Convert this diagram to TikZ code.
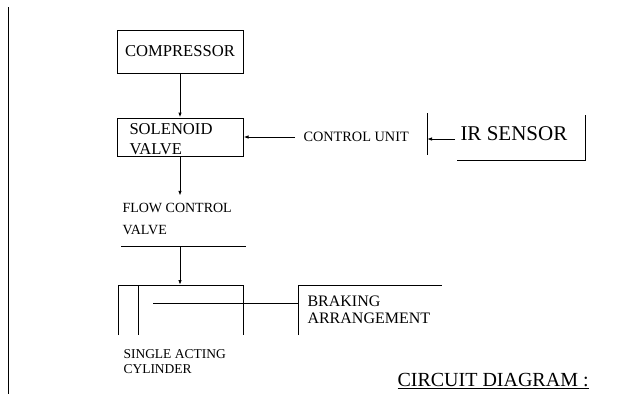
\documentclass[tikz,border=0pt]{standalone}
\usepackage{fontspec}
\setmainfont{Liberation Serif}
\usetikzlibrary{positioning,arrows.meta}

\begin{document}
\begin{tikzpicture}[
    x=1pt, y=-1pt,
    line width=1pt,
    every node/.style={inner sep=0pt},
    flowarr/.style={-{Latex[length=5pt,width=3.5pt]}},
    blk/.style={draw, minimum width=126pt},
    txt/.style={anchor=west, align=left},
  ]
  \useasboundingbox (0,0) rectangle (626,394);
  \draw (8,7) -- (8,394);

  % main column
  \node[blk, minimum height=43pt, font=\fontsize{16.6}{20}\selectfont]
    (comp) at (180,51.5) {COMPRESSOR};
  \node[blk, minimum height=38pt] (sol) at (180,137) {};
  \node[txt, font=\fontsize{16.6}{20}\selectfont] (soltxt) at (129,139)
    {SOLENOID\\VALVE};
  \node[txt, inner ysep=7pt, font=\fontsize{14}{22}\selectfont] (flow)
    at (122,219) {FLOW CONTROL\\VALVE};
  \draw[flowarr] (comp) -- (sol);
  \draw[flowarr] (sol.south) -- (sol.south |- flow.north);

  % control side
  \node[txt, inner xsep=8pt, font=\fontsize{14.3}{17}\selectfont] (ctrl)
    at (295,137) {CONTROL UNIT};
  \node[txt, inner xsep=5pt, font=\fontsize{21}{25}\selectfont] (ir)
    at (455,134) {IR SENSOR};
  \coordinate (bar) at (427,139);
  \draw[flowarr] (ctrl.west) -- (sol.east);
  \draw (427,113) -- (427,155);
  \draw[flowarr] (ir.west |- bar) -- (bar);
  \draw (585,115) -- (585,160) -- (457,160);

  % valve and cylinder
  \coordinate (vl) at (121,246);
  \coordinate (vr) at (246,246);
  \coordinate (cyl) at (180,285);
  \draw (vl) -- (vr);
  \draw[flowarr] (vl -| cyl) -- (cyl);
  \draw (118,335) -- (118,285) -- (243,285) -- (243,335);
  \draw (138,285) -- (138,335);
  \node[txt, font=\fontsize{13.5}{15}\selectfont] (cyltxt) at (123,362)
    {SINGLE ACTING\\CYLINDER};

  % braking
  \coordinate (rod) at (153,303);
  \coordinate (brk) at (298,303);
  \draw (rod) -- (brk);
  \draw (298,335) -- (298,285) -- (442,285);
  \node[txt, font=\fontsize{16}{16.5}\selectfont] (brake) at (307,310)
    {BRAKING\\ARRANGEMENT};

  \node[txt, font=\fontsize{20}{24}\selectfont] (title) at (397,381)
    {\underline{CIRCUIT DIAGRAM :}};
\end{tikzpicture}
\end{document}
